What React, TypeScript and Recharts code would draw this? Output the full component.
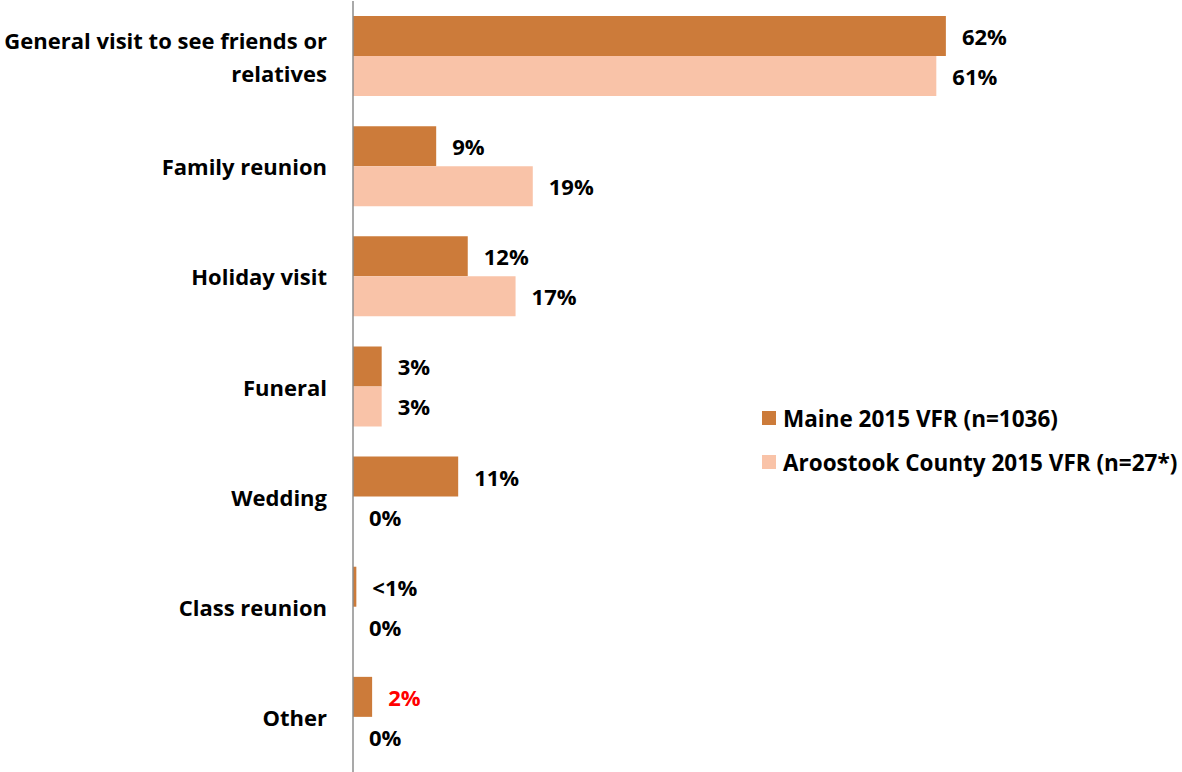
import React from 'react';
import { BarChart, Bar, XAxis, YAxis, LabelList } from 'recharts';

const categories = [
  'General visit to see friends or relatives',
  'Family reunion',
  'Holiday visit',
  'Funeral',
  'Wedding',
  'Class reunion',
  'Other',
];
const maineValues = [62, 8.7, 12, 3, 11, 0.35, 2];
const aroostookValues = [61, 18.8, 17, 3, 0, 0, 0];
const maineLabels = ['62%', '9%', '12%', '3%', '11%', '<1%', '2%'];
const aroostookLabels = ['61%', '19%', '17%', '3%', '0%', '0%', '0%'];
const maineLabelColors = ['#000', '#000', '#000', '#000', '#000', '#000', '#ff0000'];

const seriesNames = ['Maine 2015 VFR (n=1036)', 'Aroostook County 2015 VFR (n=27*)'];
const DARK = '#cc7b3a';
const LIGHT = '#f9c3a8';
const FONT = '"Open Sans", Lato, sans-serif';
const PLOT_LEFT = 353;

const data = categories.map((name, i) => ({
  name,
  maine: maineValues[i],
  aroostook: aroostookValues[i],
}));

const wrap = (text: string, max: number) => {
  const words = text.split(' ');
  const lines: string[] = [];
  let cur = '';
  words.forEach((w) => {
    const next = cur ? cur + ' ' + w : w;
    if (next.length > max && cur) {
      lines.push(cur);
      cur = w;
    } else {
      cur = next;
    }
  });
  if (cur) lines.push(cur);
  return lines;
};

const CategoryTick = ({ y, payload }: any) => {
  const lines = wrap(payload.value, 31);
  const lh = 33;
  const start = y - ((lines.length - 1) * lh) / 2;
  return (
    <g>
      {lines.map((line, i) => (
        <text
          key={i}
          x={PLOT_LEFT - 26}
          y={start + i * lh}
          textAnchor="end"
          dominantBaseline="central"
          fontFamily={FONT}
          fontWeight={700}
          fontSize={22}
          fill="#000"
        >
          {line}
        </text>
      ))}
    </g>
  );
};

const ValueText = ({ x, y, text, color }: any) => (
  <text
    x={x}
    y={y}
    dominantBaseline="central"
    fontFamily={FONT}
    fontWeight={700}
    fontSize={22}
    fill={color || '#000'}
  >
    {text}
  </text>
);

// Maine labels; also draws the Aroostook "0%" labels, since Recharts skips zero-length bars
const maineLabel = (props: any) => {
  const { x, y, width, height, index } = props;
  return (
    <g>
      <ValueText x={x + width + 16} y={y + height / 2} text={maineLabels[index]} color={maineLabelColors[index]} />
      {aroostookValues[index] === 0 && (
        <ValueText x={x + 16} y={y + height * 1.5} text={aroostookLabels[index]} />
      )}
    </g>
  );
};

const aroostookLabel = (props: any) => {
  const { x, y, width, height, index } = props;
  if (aroostookValues[index] === 0) return null;
  return <ValueText x={x + width + 16} y={y + height / 2} text={aroostookLabels[index]} />;
};

const LegendBox = () => (
  <div
    style={{
      position: 'absolute',
      left: 762,
      top: 396,
      fontFamily: FONT,
      fontWeight: 700,
      fontSize: 22.5,
      color: '#000',
      whiteSpace: 'nowrap',
    }}
  >
    {seriesNames.map((n, i) => (
      <div key={n} style={{ display: 'flex', alignItems: 'center', height: 44 }}>
        <span
          style={{
            display: 'inline-block',
            width: 14,
            height: 14,
            background: i === 0 ? DARK : LIGHT,
            marginRight: 7,
          }}
        />
        <span>{n}</span>
      </div>
    ))}
  </div>
);

export default function App() {
  return (
    <div style={{ position: 'absolute', left: 0, top: 0, width: 1182, height: 772, background: '#fff', overflow: 'hidden' }}>
      <BarChart
        width={1182}
        height={772}
        data={data}
        layout="vertical"
        margin={{ top: 1, right: 64, bottom: 0, left: 0 }}
        barGap={0}
        barSize={40}
      >
        <XAxis type="number" domain={[0, 80]} hide />
        <YAxis
          type="category"
          dataKey="name"
          width={PLOT_LEFT}
          axisLine={{ stroke: '#8c8c8c', strokeWidth: 1.5 }}
          tickLine={false}
          tick={<CategoryTick />}
          interval={0}
        />
        <Bar dataKey="maine" name={seriesNames[0]} fill={DARK} isAnimationActive={false}>
          <LabelList dataKey="maine" content={maineLabel} />
        </Bar>
        <Bar dataKey="aroostook" name={seriesNames[1]} fill={LIGHT} isAnimationActive={false}>
          <LabelList dataKey="aroostook" content={aroostookLabel} />
        </Bar>
      </BarChart>
      <LegendBox />
    </div>
  );
}
